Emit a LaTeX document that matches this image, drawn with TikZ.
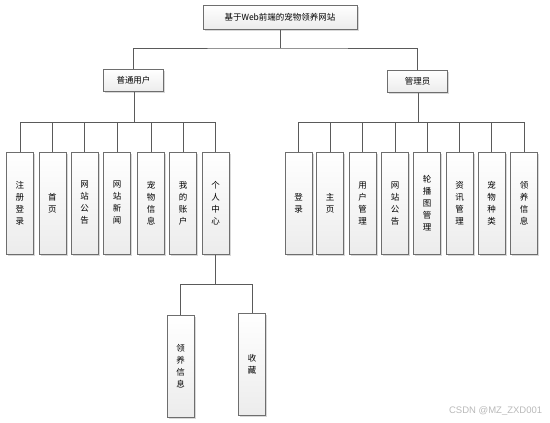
\documentclass[tikz,border=0pt]{standalone}
\usepackage{fontspec}
\setmainfont{Noto Sans CJK SC}
\newfontfamily\wmfont{Liberation Sans}
\usetikzlibrary{shadows}

\definecolor{boxline}{RGB}{110,110,110}
\definecolor{wire}{RGB}{90,90,90}
\definecolor{boxlow}{RGB}{236,236,236}

\begin{document}
\begin{tikzpicture}[x=1pt, y=-1pt, line width=1pt,
  box/.style={draw=boxline, top color=white, bottom color=boxlow,
    drop shadow={shadow xshift=1.5pt, shadow yshift=-1.5pt, fill=gray!60, opacity=.5},
    inner sep=0pt, font=\fontsize{8.5}{12}\selectfont},
  title/.style={box, minimum width=154pt, minimum height=24pt},
  role/.style={box, minimum width=60pt, minimum height=22pt},
  leaf/.style={box, minimum width=27pt, minimum height=102pt, align=center}]

  \useasboundingbox (0,0) rectangle (550,423);

  % raiz y roles
  \node[title] (site)  at (280,17)    {基于Web前端的宠物领养网站};
  \node[role]  (user)  at (133.5,80.5) {普通用户};
  \node[role]  (admin) at (417.5,81)   {管理员};

  % usuario
  \node[leaf] (u1) at (20,203)    {注\\册\\登\\录};
  \node[leaf] (u2) at (52.5,203)  {首\\页};
  \node[leaf] (u3) at (84.5,203)  {网\\站\\公\\告};
  \node[leaf] (u4) at (117,203)   {网\\站\\新\\闻};
  \node[leaf] (u5) at (151,203)   {宠\\物\\信\\息};
  \node[leaf] (u6) at (183,203)   {我\\的\\账\\户};
  \node[leaf] (u7) at (215.5,203) {个\\人\\中\\心};

  % administrador
  \node[leaf] (a1) at (298.5,203.5) {登\\录};
  \node[leaf] (a2) at (330,203.5)   {主\\页};
  \node[leaf] (a3) at (362.5,203.5) {用\\户\\管\\理};
  \node[leaf] (a4) at (395,203.5)   {网\\站\\公\\告};
  \node[leaf] (a5) at (427,203.5)   {轮\\播\\图\\管\\理};
  \node[leaf] (a6) at (459.5,203.5) {资\\讯\\管\\理};
  \node[leaf] (a7) at (491.5,203.5) {宠\\物\\种\\类};
  \node[leaf] (a8) at (524,203.5)   {领\\养\\信\\息};

  % centro personal
  \node[leaf] (c1) at (180.5,366) {领\\养\\信\\息};
  \node[leaf] (c2) at (252,364.5) {收\\藏};

  \coordinate (j1) at (280,48);
  \coordinate (j2) at (134.5,122.5);
  \coordinate (j3) at (418.5,122.5);
  \coordinate (j4) at (215.5,284);

  \begin{scope}[draw=wire]
  \draw (site) -- (j1);
  \draw (user.north) |- (j1) -| (admin.north);
  \draw (user.south -| j2) -- (j2);
  \draw (j2) -| (u1.north);
  \draw (j2) -| (u2.north);
  \draw (j2) -| (u3.north);
  \draw (j2) -| (u4.north);
  \draw (j2) -| (u5.north);
  \draw (j2) -| (u6.north);
  \draw (j2) -| (u7.north);
  \draw (admin.south -| j3) -- (j3);
  \draw (j3) -| (a1.north);
  \draw (j3) -| (a2.north);
  \draw (j3) -| (a3.north);
  \draw (j3) -| (a4.north);
  \draw (j3) -| (a5.north);
  \draw (j3) -| (a6.north);
  \draw (j3) -| (a7.north);
  \draw (j3) -| (a8.north);
  \draw (u7.south) -- (j4);
  \draw (j4) -| (c1.north);
  \draw (j4) -| (c2.north);
  \end{scope}

  \node[anchor=east, text=gray!55, font=\wmfont\fontsize{9.5}{10}\selectfont]
    (mark) at (546,411) {CSDN @MZ\_ZXD001};
\end{tikzpicture}
\end{document}
